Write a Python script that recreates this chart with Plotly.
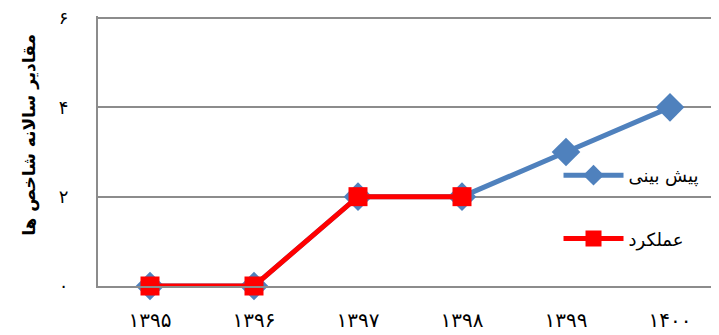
import plotly.graph_objects as go

categories = ["۱۳۹۵", "۱۳۹۶", "۱۳۹۷", "۱۳۹۸", "۱۳۹۹", "۱۴۰۰"]
forecast = [0, 0, 2, 2, 3, 4]
actual = [0, 0, 2, 2]
y_ticks = [0, 2, 4, 6]
y_tick_labels = ["۰", "۲", "۴", "۶"]
forecast_name = "پیش بینی"
actual_name = "عملکرد"
y_title = "مقادیر سالانه شاخص ها"

FONT = "DejaVu Sans"

fig = go.Figure()
fig.add_trace(go.Scatter(
    x=categories, y=forecast, name=forecast_name, mode="lines+markers",
    line=dict(color="#4F81BD", width=5),
    marker=dict(symbol="diamond", size=22, color="#4F81BD"),
    legendgroup="a", cliponaxis=False,
))
fig.add_trace(go.Scatter(
    x=categories[:len(actual)], y=actual, name=actual_name, mode="lines+markers",
    line=dict(color="#FF0000", width=5),
    marker=dict(symbol="square", size=19, color="#FF0000"),
    legendgroup="b", cliponaxis=False,
))

fig.update_layout(
    width=719, height=335,
    margin=dict(l=90, r=5, t=8, b=57, autoexpand=False),
    paper_bgcolor="white", plot_bgcolor="white",
    font=dict(family=FONT, size=16, color="black"),
    showlegend=True,
    legend=dict(x=0.738, y=0.478, xanchor="left", yanchor="top",
                bgcolor="rgba(0,0,0,0)", font=dict(size=18, family=FONT),
                tracegroupgap=37, itemwidth=60),
    xaxis=dict(type="category", range=[-0.5, 5.5], showgrid=False,
               showline=True, linecolor="#8C8C8C", linewidth=2,
               ticks="", ticklabelstandoff=15, automargin=False,
               tickfont=dict(size=20, family=FONT)),
    yaxis=dict(range=[0, 6.045], tickvals=y_ticks, ticktext=y_tick_labels,
               showgrid=True, gridcolor="#8C8C8C", gridwidth=2,
               zeroline=False, showline=True, linecolor="#8C8C8C", linewidth=2,
               ticks="", ticklabelstandoff=24, automargin=False,
               ticklabeloverflow="allow",
               tickfont=dict(size=18, family=FONT)),
    annotations=[dict(text="<b>" + y_title + "</b>", textangle=-90,
                      xref="paper", yref="paper", x=-0.109, y=0.56,
                      xanchor="center", yanchor="middle", showarrow=False,
                      font=dict(size=17, family=FONT, color="black"))],
)

fig.write_html("out.html")
